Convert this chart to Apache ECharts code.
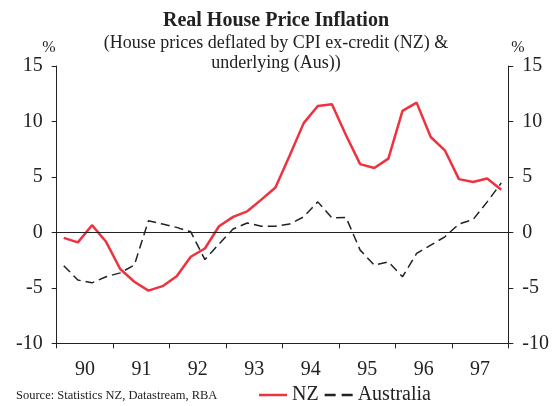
<!DOCTYPE html>
<html><head><meta charset="utf-8">
<script src="https://cdn.jsdelivr.net/npm/echarts@6/dist/echarts.min.js"></script>
<style>html,body{margin:0;padding:0;background:#fff}#c{width:552px;height:406px}</style>
</head><body><div id="c"></div>
<script>
const years = ['90','91','92','93','94','95','96','97'];
const nz = [-0.5,-0.9,0.65,-0.85,-3.3,-4.45,-5.25,-4.85,-3.95,-2.2,-1.45,0.55,1.4,1.9,2.95,4.05,6.9,9.85,11.4,11.55,8.75,6.15,5.8,6.65,10.95,11.7,8.6,7.4,4.8,4.55,4.85,3.85];
const aus = [-3.0,-4.3,-4.55,-4.0,-3.65,-2.95,1.05,0.75,0.45,0.05,-2.45,-1.05,0.3,0.85,0.55,0.55,0.75,1.4,2.75,1.3,1.35,-1.6,-2.95,-2.65,-4.0,-1.9,-1.15,-0.4,0.75,1.15,2.75,4.45];
const yTicks = [-10,-5,0,5,10,15];

const FONT = 'Liberation Serif';
const INK = '#222';
const toXY = arr => arr.map((v,i)=>[i+0.5, v]);

const chart = echarts.init(document.getElementById('c'), null, {renderer:'canvas'});
const yAx = (pos) => ({
  type:'value', position:pos, min:yTicks[0], max:yTicks[yTicks.length-1], interval:5,
  name:'%', nameLocation:'end', nameGap:9,
  nameTextStyle:{fontFamily:FONT, fontSize:16, color:INK, align: pos==='left'?'right':'left',
    padding: pos==='left'?[0,1,0,0]:[0,0,0,3]},
  axisLine:{show:true, lineStyle:{color:INK, width:1}},
  axisTick:{show:true, inside:false, length:5, lineStyle:{color:INK}},
  axisLabel:{fontFamily:FONT, fontSize:20, color:INK, margin:14},
  splitLine:{show:false}
});
chart.setOption({
  animation:false,
  backgroundColor:'#fff',
  title:[
    {text:'Real House Price Inflation', left:'center', top:6,
     textStyle:{fontFamily:FONT, fontSize:20, fontWeight:'bold', color:INK}},
    {text:'(House prices deflated by CPI ex-credit (NZ) &\nunderlying (Aus))', left:'center', top:29,
     textStyle:{fontFamily:FONT, fontSize:18, fontWeight:'normal', color:INK, lineHeight:19.5}},
    {text:'Source: Statistics NZ, Datastream, RBA', left:16, top:389, padding:0,
     textStyle:{fontFamily:FONT, fontSize:12.5, fontWeight:'normal', color:INK}}
  ],
  grid:{left:56.7, right:43.3, top:66, bottom:62.7, containLabel:false},
  legend:{
    left:259, top:385, padding:0, itemWidth:28, itemHeight:2.5, itemGap:6,
    textStyle:{fontFamily:FONT, fontSize:20, color:INK},
    data:[
      {name:'NZ', icon:'path://M0,0h28v2.5h-28z'},
      {name:'Australia', icon:'path://M0,0h11v2.5h-11zM17,0h11v2.5h-11z'}
    ]
  },
  xAxis:[
    {type:'category', data:years, boundaryGap:true, position:'bottom',
     axisLine:{show:true, onZero:false, lineStyle:{color:INK}},
     axisTick:{show:true, inside:false, length:5, lineStyle:{color:INK}},
     axisLabel:{fontFamily:FONT, fontSize:20, color:INK, margin:16}},
    {type:'value', min:0, max:years.length*4, show:false}
  ],
  yAxis:[yAx('left'), yAx('right')],
  series:[
    {name:'NZ', type:'line', xAxisIndex:1, yAxisIndex:0, data:toXY(nz), symbol:'none',
     lineStyle:{color:'#ee3340', width:2.5}, itemStyle:{color:'#ee3340'},
     markLine:{silent:true, symbol:'none', label:{show:false},
       lineStyle:{color:INK, width:1, type:'solid'}, data:[{yAxis:0}]}},
    {name:'Australia', type:'line', xAxisIndex:1, yAxisIndex:0, data:toXY(aus), symbol:'none',
     lineStyle:{color:INK, width:1.5, type:[9,5]}, itemStyle:{color:INK}}
  ]
});
</script></body></html>
